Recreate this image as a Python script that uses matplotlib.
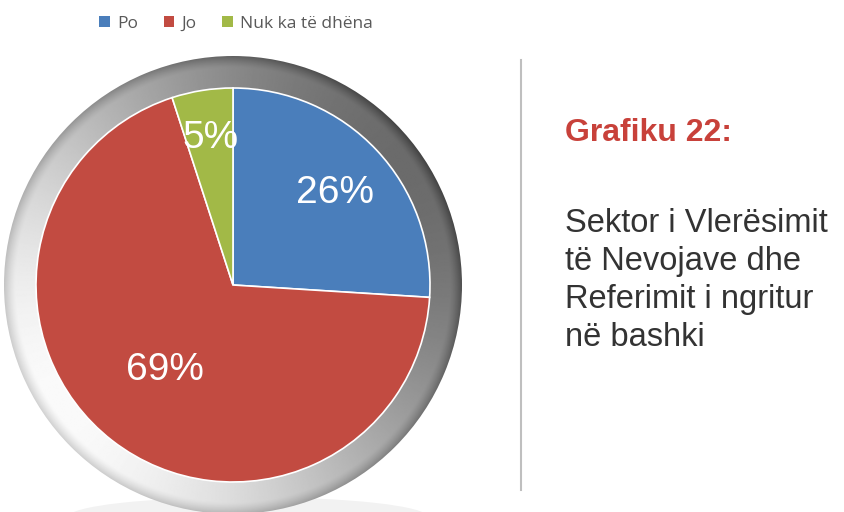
import numpy as np
import matplotlib.pyplot as plt
from matplotlib.patches import Wedge, Ellipse

# Data
labels = ['Po', 'Jo', 'Nuk ka të dhëna']
values = [26, 69, 5]
colors = ['#4a7ebb', '#c24b41', '#a2b947']
title = 'Grafiku 22:'
desc_lines = ['Sektor i Vlerësimit', 'të Nevojave dhe', 'Referimit i ngritur', 'në bashki']

W, H = 844, 512
fig = plt.figure(figsize=(W / 100, H / 100), dpi=100)
ax = fig.add_axes([0, 0, 1, 1])

cx, cy = 233, H - 285
r_pie, r_ring = 197, 229

# soft shadow under the ring
ax.add_patch(Ellipse((cx + 15, cy - 232), 360, 40, color='#000000', alpha=0.05, lw=0, zorder=0))

# metallic ring
n = 400
xs = np.linspace(cx - r_ring, cx + r_ring, n)
ys = np.linspace(cy - r_ring, cy + r_ring, n)
X, Y = np.meshgrid(xs, ys)
ang = np.arctan2(Y - cy, X - cx)
rad = np.hypot(X - cx, Y - cy)
shade = 0.70 + 0.28 * np.cos(ang - np.deg2rad(215))
rel = (rad - r_pie) / (r_ring - r_pie)
shade = shade - 0.6 * np.clip(rel - 0.65, 0, 1) ** 1.3
shade = np.clip(shade, 0.2, 1.0)
img = ax.imshow(shade, extent=(xs[0], xs[-1], ys[0], ys[-1]), origin='lower',
                cmap='gray', vmin=0, vmax=1, zorder=1, interpolation='bilinear')
ring = Wedge((cx, cy), r_ring, 0, 360, width=r_ring - r_pie + 2, transform=ax.transData,
             facecolor='none', edgecolor='none')
ax.add_patch(ring)
img.set_clip_path(ring)

# pie
wedges, texts = ax.pie(values, colors=colors, startangle=90, counterclock=False,
                       center=(cx, cy), radius=r_pie, frame=True,
                       wedgeprops=dict(edgecolor='white', linewidth=1.2, zorder=2))
ax.set_xlim(0, W)
ax.set_ylim(0, H)
ax.set_aspect('equal')
ax.axis('off')

# percentage labels
pos = [(335, 193), (165, 370), (211, 138)]
for v, (px, py) in zip(values, pos):
    ax.text(px, H - py, f'{v}%', color='white', fontsize=28, family='Liberation Sans',
            ha='center', va='center', zorder=3)

# legend
leg = ax.legend(wedges, labels, loc='center', bbox_to_anchor=(236 / W, 1 - 24 / H),
                ncol=3, frameon=False, handlelength=0.6, handleheight=0.6,
                handletextpad=0.4, columnspacing=1.5,
                prop=dict(family='Open Sans', size=12.5))
for t in leg.get_texts():
    t.set_color('#595959')
for h in leg.legend_handles:
    h.set_edgecolor('none')

# divider
ax.plot([521, 521], [H - 60, H - 490], color='#bfbfbf', lw=1.5)

# right-side text
ax.text(565, H - 133, title, color='#c8413a', fontsize=23, fontweight='bold',
        family='Liberation Sans', ha='left', va='center')
for i, line in enumerate(desc_lines):
    ax.text(565, H - (232 + 38 * i), line, color='#333333', fontsize=23.5,
            family='Liberation Sans', ha='left', va='baseline')

fig.savefig('out.png', dpi=100, facecolor='white')
